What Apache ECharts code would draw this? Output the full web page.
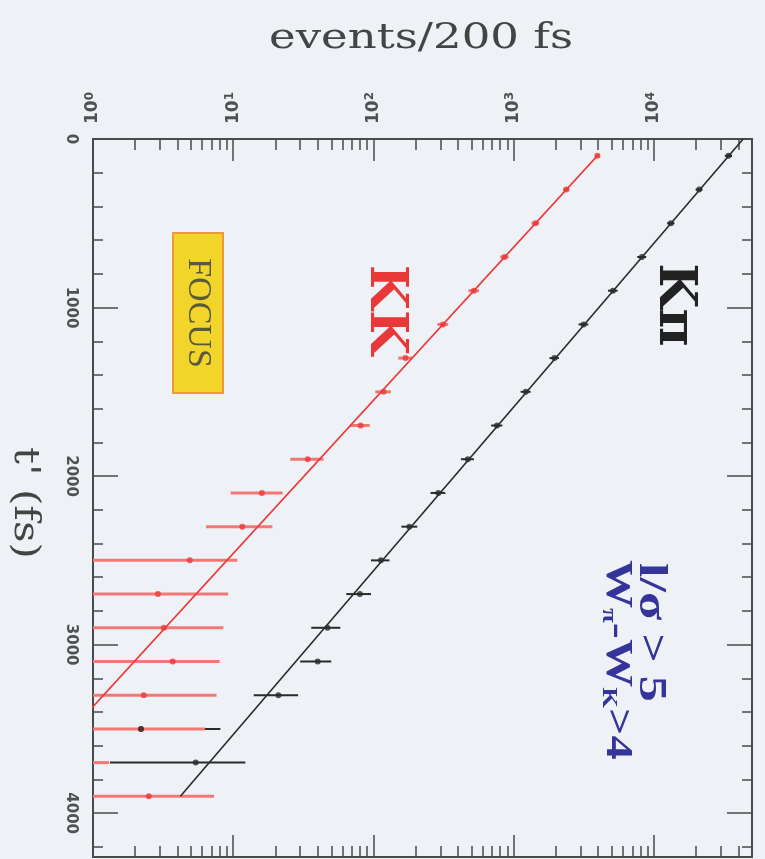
<!DOCTYPE html>
<html><head><meta charset="utf-8">
<script src="https://cdn.jsdelivr.net/npm/echarts@6/dist/echarts.min.js"></script>
<style>html,body{margin:0;padding:0;background:#eef1f5}#c{width:765px;height:859px}</style>
</head><body><div id="c"></div>
<script>
// proper-time bin centres (fs), 200 fs bins
const tBins = [100,300,500,700,900,1100,1300,1500,1700,1900,2100,2300,2500,2700,2900,3100,3300,3500,3700,3900];

// K pi sample: events per bin, error bar low / high
const kpiVal = [34000,21000,13200,8200,5100,3150,1950,1220,760,470,290,180,113,80,47,40,21,2.2,5.4];
const kpiLo  = [32000,19800,12400,7600,4700,2900,1800,1120,690,420,255,158,96,64,36,30,14,1,1.32];
const kpiHi  = [36000,22200,14000,8800,5500,3400,2100,1320,830,520,325,205,130,96,58,50,29,8.1,12.2];

// K K sample
const kkVal = [3950,2370,1430,860,520,313,169,118,81,34,16,11.6,4.9,2.9,3.2,3.7,2.3,2.2,0.8,2.5];
const kkLo  = [3800,2250,1340,800,475,285,150,103,68,25.5,9.6,6.4,1,1,1,1,1,1,0.5,1];
const kkHi  = [4100,2490,1520,920,565,341,188,133,94,44,22.5,19,10.7,9.2,8.5,8.0,7.6,6.3,1.3,7.3];

// exponential fits (end points in t', events)
const kpiFitT = [0, 3900];
const kpiFitN = [43250, 4.2];
const kkFitT  = [100, 3900];
const kkFitN  = [3940, 0.26];

// axis ticks
const xMajor = [1,10,100,1000,10000];
const xMinor = [];
[1,10,100,1000,10000].forEach(d => { for (let k = 2; k <= 9; k++) if (d*k <= 50000) xMinor.push(d*k); });
const xExp = {1:'0',10:'1',100:'2',1000:'3',10000:'4'};
const yMajor = [0,1000,2000,3000,4000];
const yMinor = [];
for (let v = 200; v <= 4200; v += 200) if (v % 1000) yMinor.push(v);

const AX = '#4a4a4a';
const LBL = '#505050';
const RED = '#ec3a3a', RED_BAR = 'rgb(242,120,120)';
const BLK = '#2a2a2a';
const BLUE = '#34349a';

function xAxisDef(pos, major, labels) {
  return {
    type: 'log', logBase: 10, min: 1, max: 50000, position: pos,
    axisLine: { show: true, onZero: false, lineStyle: { color: AX, width: 2 } },
    axisTick: { show: true, inside: true, length: major ? 22 : 11,
      customValues: major ? xMajor : xMinor, lineStyle: { color: AX, width: 1.5 } },
    axisLabel: labels ? {
      show: true, customValues: xMajor, rotate: -90, margin: 15,
      formatter: v => '{b|10}{s|' + (xExp[Math.round(v)] || '') + '}',
      rich: {
        b: { fontFamily: 'DejaVu Sans', fontWeight: 'bold', fontSize: 17, color: LBL },
        s: { fontFamily: 'DejaVu Sans', fontWeight: 'bold', fontSize: 12, color: LBL, padding: [0, 0, 7, 0] }
      }
    } : { show: false },
    splitLine: { show: false }, minorTick: { show: false }
  };
}
function yAxisDef(pos, major, labels) {
  return {
    type: 'value', inverse: true, min: 0, max: 4260, position: pos,
    axisLine: { show: true, onZero: false, lineStyle: { color: AX, width: 2 } },
    axisTick: { show: true, inside: true, length: major ? 25 : 10,
      customValues: major ? yMajor : yMinor, lineStyle: { color: AX, width: 1.5 } },
    axisLabel: labels ? {
      show: true, customValues: yMajor, rotate: -90, margin: 15,
      formatter: v => String(v),
      fontFamily: 'DejaVu Sans', fontWeight: 'bold', fontSize: 15, color: LBL
    } : { show: false },
    splitLine: { show: false }
  };
}

function bars(lo, hi, color, width, z) {
  return {
    type: 'custom', xAxisIndex: 0, yAxisIndex: 0, clip: true,
    data: lo.map((l, i) => [l, tBins[i], hi[i]]),
    encode: { x: [0, 2], y: 1 },
    renderItem: (params, api) => {
      const a = api.coord([Math.max(api.value(0), 1), api.value(1)]);
      const b = api.coord([api.value(2), api.value(1)]);
      return { type: 'line', shape: { x1: a[0], y1: a[1], x2: b[0], y2: b[1] },
        style: { stroke: color, lineWidth: width } };
    },
    z: z
  };
}

const chart = echarts.init(document.getElementById('c'), null, { renderer: 'canvas' });
chart.setOption({
  backgroundColor: '#eef1f5',
  animation: false,
  grid: { left: 93, right: 13, top: 139, bottom: 2, outerBoundsMode: 'none' },
  xAxis: [xAxisDef('top', true, true), xAxisDef('top', false, false),
          xAxisDef('bottom', true, false), xAxisDef('bottom', false, false)],
  yAxis: [yAxisDef('left', true, true), yAxisDef('left', false, false),
          yAxisDef('right', true, false), yAxisDef('right', false, false)],
  series: [
    bars(kpiLo, kpiHi, BLK, 2, 2),
    bars(kkLo, kkHi, RED_BAR, 3, 3),
    { type: 'line', data: kkFitT.map((t, i) => [kkFitN[i], t]), showSymbol: false, clip: true,
      lineStyle: { color: RED, width: 1.6 }, z: 4 },
    { type: 'line', data: kpiFitT.map((t, i) => [kpiFitN[i], t]), showSymbol: false, clip: true,
      lineStyle: { color: BLK, width: 1.6 }, z: 4 },
    { type: 'scatter', data: kkVal.map((v, i) => [v, tBins[i]]), symbolSize: 6, clip: true,
      itemStyle: { color: RED }, z: 5 },
    { type: 'scatter', data: kpiVal.map((v, i) => [v, tBins[i]]), symbolSize: 6, clip: true,
      itemStyle: { color: BLK }, z: 6 }
  ],
  graphic: [
    { type: 'text', x: 421, y: 39, scaleX: 1.25, style: { text: 'events/200 fs', font: '36px "DejaVu Serif"',
      fill: '#444', align: 'center', verticalAlign: 'middle' } },
    { type: 'text', x: 24, y: 503, rotation: -Math.PI / 2, scaleX: 1.17, style: { text: "t' (fs)",
      font: '36px "DejaVu Serif"', fill: '#444', align: 'center', verticalAlign: 'middle' } },
    { type: 'text', x: 674, y: 305, rotation: -Math.PI / 2, style: { text: 'K\u03c0',
      font: 'bold 52px "DejaVu Serif"', fill: '#222', align: 'center', verticalAlign: 'middle' } },
    { type: 'text', x: 385, y: 310, rotation: -Math.PI / 2, style: { text: 'KK',
      font: 'bold 52px "DejaVu Serif"', fill: '#e83838', align: 'center', verticalAlign: 'middle' } },
    { type: 'rect', shape: { x: 173, y: 233, width: 50, height: 160 },
      style: { fill: '#f2d52a', stroke: '#ee9a3a', lineWidth: 2 } },
    { type: 'text', x: 198, y: 313, rotation: -Math.PI / 2, style: { text: 'FOCUS',
      font: '34px "Liberation Serif"', fill: '#5a5a3a', align: 'center', verticalAlign: 'middle' } },
    { type: 'text', x: 650, y: 563, rotation: -Math.PI / 2, scaleX: 1.3, style: { text: 'l/\u03c3 > 5',
      font: 'bold 40px "Liberation Serif"', fill: BLUE, align: 'left', verticalAlign: 'middle' } },
    { type: 'text', x: 617, y: 560, rotation: -Math.PI / 2, scaleX: 1.27, style: {
      text: 'W{s|\u03c0}-W{s|K}>4',
      rich: { s: { font: 'bold 21px "Liberation Serif"', fill: BLUE, padding: [18, 0, 0, 0] } },
      font: 'bold 38px "Liberation Serif"', fill: BLUE, align: 'left', verticalAlign: 'middle' } }
  ]
});
</script></body></html>
